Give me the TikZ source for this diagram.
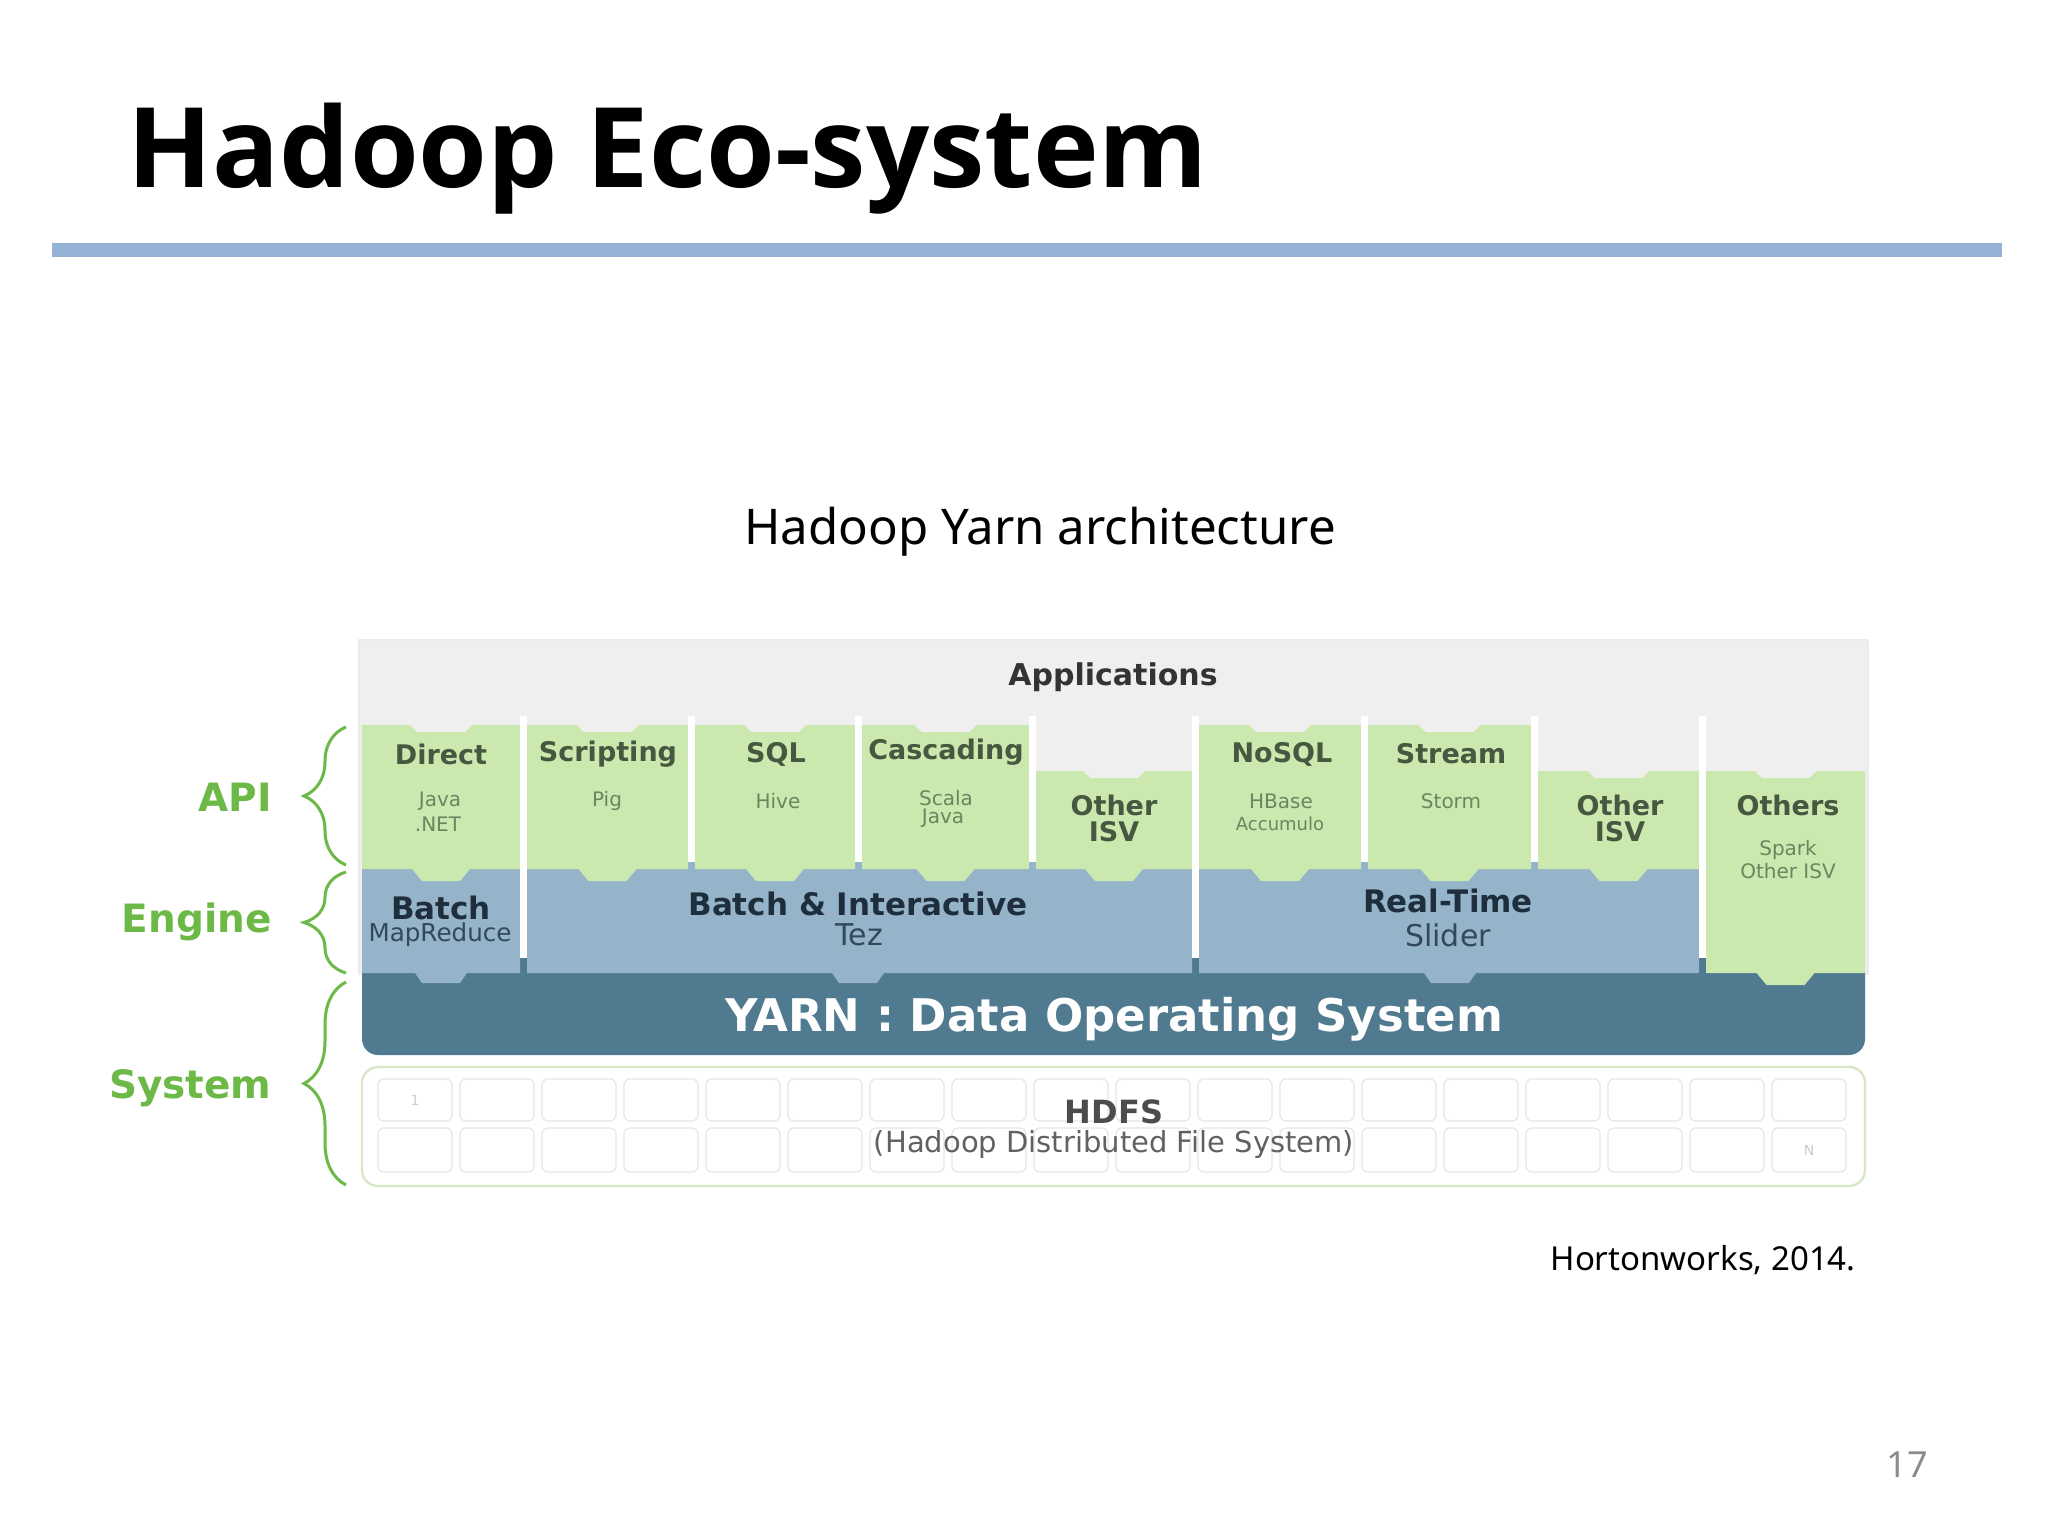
\documentclass[tikz,border=0pt]{standalone}
\usepackage{fontspec}
\setmainfont{Noto Sans}
\newfontfamily\titlef{Open Sans}
\newfontfamily\djv{DejaVu Sans}
\usetikzlibrary{decorations.pathreplacing}
\definecolor{barblue}{HTML}{95B3D7}
\definecolor{panelgrey}{HTML}{EFEFEF}
\definecolor{gfill}{HTML}{CBE9AF}
\definecolor{bfill}{HTML}{95B4C9}
\definecolor{yfill}{HTML}{507A8F}
\definecolor{hdrc}{HTML}{46583F}
\definecolor{subc}{HTML}{6B8561}
\definecolor{engc}{HTML}{1E2E3C}
\definecolor{engr}{HTML}{33485A}
\definecolor{lblgreen}{HTML}{6DB947}
\definecolor{hdfsline}{HTML}{D8E8C6}
\definecolor{cellline}{HTML}{E6E6E6}
\newcommand\gcolumn[4]{%
  \pgfmathsetmacro\gcx{(#1+#2)/2}%
  \fill[gfill] (#1,#3) -- (\gcx-31,#3) -- (\gcx-24,#3+7) -- (\gcx+24,#3+7) -- (\gcx+31,#3)
    -- (#2,#3) -- (#2,#4) -- (\gcx+29,#4) -- (\gcx+19,#4+12) -- (\gcx-19,#4+12) -- (\gcx-29,#4)
    -- (#1,#4) -- cycle;}
\newcommand\bblock[3]{%
  \fill[bfill] (#1,860) -- (#2,860) -- (#2,973) -- (#3+26,973) -- (#3+19,983)
    -- (#3-19,983) -- (#3-26,973) -- (#1,973) -- cycle;}
\begin{document}
\begin{tikzpicture}[x=0.5pt,y=-0.5pt,
  hdr/.style={font=\djv\bfseries\fontsize{13.5}{16}\selectfont, text=hdrc, inner sep=0pt},
  sub/.style={font=\djv\fontsize{10}{12}\selectfont, text=subc, inner sep=0pt},
  engb/.style={font=\djv\bfseries\fontsize{15.5}{18}\selectfont, text=engc, inner sep=0pt},
  engt/.style={font=\djv\fontsize{15}{18}\selectfont, text=engr, inner sep=0pt},
  lbl/.style={font=\djv\bfseries\fontsize{19.5}{22}\selectfont, text=lblgreen, inner sep=0pt, anchor=east},
  brc/.style={draw=lblgreen, line width=1.5pt, decorate, decoration={brace, amplitude=21pt}},
  sepw/.style={fill=white}]
\useasboundingbox (0,0) rectangle (2048,1536);
\fill[white] (0,0) rectangle (2048,1536);

% title and rule
\node[anchor=base west, inner sep=0pt, font=\titlef\bfseries\fontsize{55.6}{60}\selectfont] (title) at (127,187) {Hadoop Eco-system};
\fill[barblue] (52,243) rectangle (2002,257);

% subtitle
\node[inner sep=0pt, font=\fontsize{24.6}{28}\selectfont] (subtitle) at (1040,532) {Hadoop Yarn architecture};

% applications panel
\fill[panelgrey] (359,640) rectangle (1868,975);
\draw[black!8, line width=1pt] (359,975) -- (359,640) -- (1868,640) -- (1868,975);

% YARN layer
\fill[yfill, rounded corners=8] (362,955) rectangle (1865,1055);

% engine blocks
\bblock{362}{520}{441}
\bblock{527}{1192}{858}
\bblock{1199}{1699}{1450}

% API columns
\gcolumn{362}{520}{725}{869}
\gcolumn{527}{688}{725}{869}
\gcolumn{695}{855}{725}{869}
\gcolumn{862}{1029}{725}{869}
\gcolumn{1036}{1192}{771}{869}
\gcolumn{1199}{1361}{725}{869}
\gcolumn{1368}{1531}{725}{869}
\gcolumn{1538}{1699}{771}{869}
\gcolumn{1706}{1865}{771}{973}

% separators
\fill[sepw] (520,716) rectangle (527,958);
\fill[sepw] (1192,716) rectangle (1199,958);
\fill[sepw] (1699,716) rectangle (1706,958);
\foreach \sx in {688,855,1029,1361,1531} \fill[sepw] (\sx,716) rectangle (\sx+7,862);

% HDFS
\fill[white] (359,1057) rectangle (1868,1066);
\draw[hdfsline, line width=1.2pt, fill=white, rounded corners=8] (362,1067) rectangle (1865,1186);
\foreach \i in {0,...,17} {
  \draw[cellline, line width=0.6pt, rounded corners=3] (378+\i*82,1079) rectangle (452+\i*82,1121);
  \draw[cellline, line width=0.6pt, rounded corners=3] (378+\i*82,1128) rectangle (452+\i*82,1172);
}
\node[inner sep=0pt, font=\djv\fontsize{7}{8}\selectfont, text=black!20] (c1) at (415,1100) {1};
\node[inner sep=0pt, font=\djv\fontsize{7}{8}\selectfont, text=black!20] (cN) at (1809,1150) {N};

% texts
\node[inner sep=0pt, font=\djv\bfseries\fontsize{15}{18}\selectfont, text=black!80] (apps) at (1113,677) {Applications};

\node[hdr] (h1) at (441,754) {Direct};
\node[sub] (s1a) at (440,801) {Java};
\node[sub] (s1b) at (438,824) {.NET};
\node[hdr] (h2) at (608,754) {Scripting};
\node[sub] (s2a) at (607,801) {Pig};
\node[hdr] (h3) at (776,754) {SQL};
\node[sub] (s3a) at (778,801) {Hive};
\node[hdr] (h4) at (946,752) {Cascading};
\node[sub] (s4a) at (946,798) {Scala};
\node[sub] (s4b) at (943,818) {Java};
\node[hdr] (h5a) at (1114,805) {Other};
\node[hdr] (h5b) at (1114,832) {ISV};
\node[hdr] (h6) at (1282,754) {NoSQL};
\node[sub] (s6a) at (1281,801) {HBase};
\node[sub, font=\djv\fontsize{9}{11}\selectfont] (s6b) at (1280,824) {Accumulo};
\node[hdr] (h7) at (1451,754) {Stream};
\node[sub] (s7a) at (1451,801) {Storm};
\node[hdr] (h8a) at (1620,805) {Other};
\node[hdr] (h8b) at (1620,832) {ISV};
\node[hdr] (h9) at (1788,805) {Others};
\node[sub] (s9a) at (1788,850) {Spark};
\node[sub] (s9b) at (1788,871) {Other ISV};

\node[engb] (e1) at (441,908) {Batch};
\node[engt, font=\djv\fontsize{12.3}{14}\selectfont] (e1b) at (440,935) {MapReduce};
\node[engb] (e2) at (858,904) {Batch \& Interactive};
\node[engt] (e2b) at (859,935) {Tez};
\node[engb] (e3) at (1448,901) {Real-Time};
\node[engt] (e3b) at (1448,935) {Slider};

\node[inner sep=0pt, font=\djv\bfseries\fontsize{22.5}{26}\selectfont, text=white] (yarn) at (1114,1019) {YARN : Data Operating System};
\node[inner sep=0pt, font=\djv\bfseries\fontsize{16}{19}\selectfont, text=black!70] (hdfs) at (1114,1112) {HDFS};
\node[inner sep=0pt, font=\djv\fontsize{14.5}{17}\selectfont, text=black!62] (hdfs2) at (1114,1144) {(Hadoop Distributed File System)};

% side labels and braces
\node[lbl] (api) at (272,797) {API};
\node[lbl] (engine) at (272,922) {Engine};
\node[lbl] (system) at (272,1088) {System};
\coordinate (b1t) at (346,727); \coordinate (b1b) at (346,865);
\coordinate (b2t) at (346,872); \coordinate (b2b) at (346,973);
\coordinate (b3t) at (346,982); \coordinate (b3b) at (346,1185);
\draw[brc] (b1b) -- (b1t);
\draw[brc] (b2b) -- (b2t);
\draw[brc] (b3b) -- (b3t);

% source and page number
\node[anchor=east, inner sep=0pt, font=\fontsize{16.5}{20}\selectfont] (src) at (1856,1260) {Hortonworks,\ 2014.};
\node[inner sep=0pt, font=\fontsize{18}{22}\selectfont, text=black!45] (page) at (1907,1465) {17};
\end{tikzpicture}
\end{document}
